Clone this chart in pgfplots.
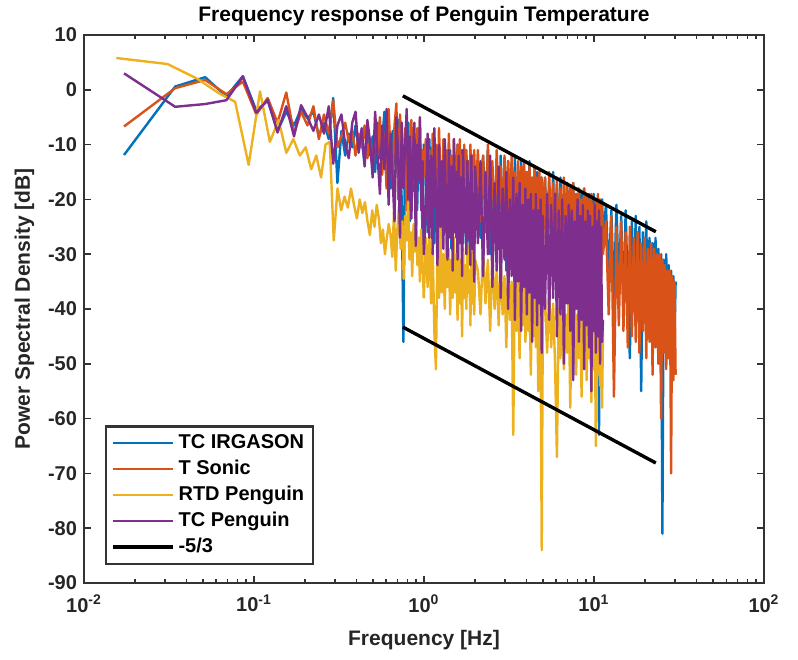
\documentclass[border=0pt]{standalone}
\usepackage{fontspec}
\setmainfont{Liberation Sans}
\usepackage{pgfplots}
\usepackage{pgfplotstable}
\pgfplotsset{compat=1.18}
\definecolor{mblue}{rgb}{0,0.447,0.741}
\definecolor{morange}{rgb}{0.85,0.325,0.098}
\definecolor{myellow}{rgb}{0.929,0.694,0.125}
\definecolor{mpurple}{rgb}{0.494,0.184,0.556}

\pgfplotstableread{
f B O Y P
0.0172 -11.9 -6.7 nan 3.0
0.0344 0.6 0.3 nan -3.1
0.0516 2.3 1.8 nan -2.6
0.0688 -1.2 -0.8 nan -1.9
0.0860 2.5 1.5 nan 2.4
0.1032 -3.8 -4.5 nan -4.2
0.1204 -2.0 -1.5 nan -1.8
0.1376 -7.5 -6.0 nan -7.8
0.1548 -4.0 -0.5 nan -3.0
0.1720 -6.5 -8.0 nan -8.5
0.1892 -3.5 -4.0 nan -2.8
0.2064 -5.2 -6.5 nan -5.0
0.2236 -4.0 -3.0 nan -7.5
0.2408 -8.5 -9.0 nan -4.5
0.2580 -6.0 -4.5 nan -8.0
0.2752 -9.0 -8.0 nan -3.0
0.2924 -1.5 -2.0 nan -13.5
0.3096 -17.0 -10.5 nan -6.5
0.3268 -7.5 -8.5 nan -4.5
0.3440 -12.0 -6.0 nan -10.0
0.3612 -8.0 -9.5 nan -12.5
0.3784 -10.5 -7.5 nan -6.0
0.3956 -6.5 -12.0 nan -4.0
0.4128 -11.0 -8.0 nan -11.5
0.4300 -9.0 -10.5 nan -7.0
0.4472 -13.5 -6.5 nan -14.0
0.4644 -7.0 -12.5 nan -5.5
0.4816 -12.0 -9.0 nan -9.5
0.4988 -8.5 -14.0 nan -16.0
0.5160 -15.0 -7.0 nan -4.0
0.5332 -6.0 -11.5 nan -12.0
0.5504 -12.5 -5.0 nan -19.0
0.5676 -9.5 -15.5 nan -6.5
0.5848 -4.0 -8.0 nan -14.5
0.6020 -14.0 -18.0 nan -3.5
0.6192 -10.0 -3.5 nan -21.0
0.6364 -18.0 -12.0 nan -8.0
0.6536 -7.5 -16.5 nan -16.0
0.6708 -12.0 -6.5 nan -24.0
0.6880 -15.0 -2.5 nan -5.0
0.7052 -5.5 -20.0 nan -12.0
0.7224 -13.0 -4.5 nan -27.0
0.7396 -20.0 -10.5 nan -6.0
0.7568 -46.0 -15.0 nan -18.0
0.7740 -9.0 -7.0 nan -10.5
0.7912 -16.5 -22.0 nan -3.5
0.8084 -6.0 -9.5 nan -20.0
0.8256 -24.0 -13.0 nan -8.5
0.8428 -11.0 -5.5 nan -23.5
0.8600 -18.5 -17.0 nan -12.0
0.8772 -8.0 -10.0 nan -6.0
0.8944 -14.0 -24.0 nan -28.5
0.9116 -22.0 -7.0 nan -10.0
0.9288 -9.5 -14.0 nan -16.5
0.9460 -17.0 -5.5 nan -5.0
0.9632 -12.0 -19.5 nan -22.0
0.9804 -28.0 -11.0 nan -13.0
0.9976 -10.0 -16.0 -38.0 -30.0
1.025 -12 -9 -27 -22
1.05 -26 -20 -36 -8
1.075 -9 -11 -26 -27
1.1 -20 -24 -39 -12
1.125 -11 -8 -29 -30
1.15 -28 -18 -44 -7
1.175 -14 -10 -51 -19
1.2 -22 -23 -28 -32
1.225 -10 -7 -38 -10
1.25 -33 -16 -25 -25
1.275 -13 -22 -37 -13
1.3 -24 -9 -30 -29
1.325 -10 -19 -40 -9
1.35 -26 -11 -27 -24
1.375 -15 -24 -36 -31
1.4 -21 -8 -29 -11
1.425 -11 -20 -41 -27
1.45 -29 -12 -31 -14
1.475 -16 -25 -38 -33
1.5 -24 -9 -27 -9
1.525 -12 -17 -37 -26
1.55 -27 -23 -30 -15
1.575 -10 -10 -42 -31
1.6 -31 -21 -28 -12
1.625 -15 -9 -39 -28
1.65 -23 -26 -31 -16
1.675 -11 -12 -45 -34
1.7 -28 -22 -29 -11
1.725 -17 -10 -38 -26
1.75 -25 -25 -32 -18
1.775 -12 -11 -40 -30
1.8 -30 -20 -28 -13
1.825 -14 -13 -37 -27
1.85 -22 -26 -33 -17
1.875 -11 -10 -43 -32
1.9 -27 -21 -30 -12
1.925 -16 -12 -39 -29
1.95 -32 -24 -29 -19
1.975 -13 -11 -41 -35
2.0 -25 -22 -31 -14
2.075 -14 -11 -33 -28
2.15 -27 -24 -41 -13
2.225 -12 -12 -29 -34
2.3 -22 -26 -39 -15
2.375 -11 -10 -31 -30
2.45 -30 -21 -44 -12
2.525 -16 -13 -30 -36
2.6 -25 -27 -40 -17
2.675 -13 -11 -33 -33
2.75 -29 -22 -43 -14
2.825 -12 -14 -31 -38
2.9 -24 -25 -41 -18
2.975 -15 -12 -34 -31
3.05 -33 -23 -47 -15
3.125 -13 -13 -32 -40
3.2 -26 -28 -42 -20
3.275 -14 -12 -35 -34
3.35 -30 -21 -63 -16
3.425 -12 -15 -33 -42
3.5 -27 -27 -44 -19
3.575 -16 -13 -34 -35
3.65 -31 -24 -49 -17
3.725 -13 -14 -36 -44
3.8 -25 -29 -43 -21
3.875 -14 -13 -33 -36
3.95 -34 -25 -46 -18
4.025 -15 -15 -35 -41
4.1 -28 -28 -44 -20
4.175 -13 -14 -37 -37
4.25 -30 -24 -52 -19
4.325 -16 -16 -36 -46
4.4 -27 -29 -45 -22
4.475 -14 -14 -38 -38
4.55 -32 -25 -47 -19
4.625 -15 -16 -36 -43
4.7 -29 -30 -55 -22
4.775 -17 -15 -39 -39
4.85 -33 -26 -46 -20
4.925 -16 -16 -84 -48
5.0 -28 -30 -41 -23
5.15 -16 -16 -38 -40
5.3 -30 -29 -48 -19
5.45 -17 -15 -37 -42
5.6 -28 -30 -47 -21
5.75 -15 -17 -39 -38
5.9 -33 -27 -50 -19
6.05 -18 -16 -67 -45
6.2 -29 -31 -40 -22
6.35 -16 -18 -49 -41
6.5 -34 -28 -38 -20
6.65 -19 -16 -51 -50
6.8 -27 -32 -41 -23
6.95 -17 -17 -48 -39
7.1 -31 -29 -37 -21
7.25 -18 -18 -58 -44
7.4 -35 -30 -40 -22
7.55 -17 -17 -50 -53
7.7 -28 -33 -39 -24
7.85 -19 -19 -52 -40
8.0 -32 -28 -41 -20
8.15 -18 -18 -49 -46
8.3 -36 -31 -39 -23
8.45 -19 -20 -56 -42
8.6 -29 -29 -42 -21
8.75 -18 -18 -50 -51
8.9 -33 -33 -40 -24
9.05 -20 -19 -53 -43
9.2 -30 -30 -41 -22
9.35 -19 -20 -49 -47
9.5 -35 -32 -39 -23
9.65 -20 -19 -57 -55
9.8 -31 -31 -42 -25
9.95 -19 -21 -51 -44
10.1 -34 -29 -40 -21
10.25 -21 -20 -65 -48
10.4 -30 -33 -43 -24
10.55 -20 -19 -52 -45
10.7 -63 -31 -41 -22
10.85 -21 -20 -54 -50
11.0 -32 -34 -42 -25
11.15 -20 -21 -58 -46
11.3 -28 -30 -44 -42
11.75 -21 -24 nan nan
12.2 -34 -41 nan nan
12.65 -22 -23 nan nan
13.1 -38 -56 nan nan
13.55 -21 -25 nan nan
14.0 -36 -43 nan nan
14.45 -23 -24 nan nan
14.9 -40 -44 nan nan
15.35 -22 -26 nan nan
15.8 -37 -47 nan nan
16.25 -49 -25 nan nan
16.7 -24 -45 nan nan
17.15 -38 -27 nan nan
17.6 -23 -46 nan nan
18.05 -41 -26 nan nan
18.5 -25 -48 nan nan
18.95 -55 -28 nan nan
19.4 -26 -44 nan nan
19.85 -42 -27 nan nan
20.3 -24 -49 nan nan
20.75 -44 -29 nan nan
21.2 -27 -46 nan nan
21.65 -40 -28 nan nan
22.1 -28 -52 nan nan
22.55 -45 -29 nan nan
23.0 -27 -47 nan nan
23.45 -43 -30 nan nan
23.9 -29 -50 nan nan
24.35 -46 -30 nan nan
24.8 -30 -60 nan nan
25.25 -81 -31 nan nan
25.7 -31 -48 nan nan
26.15 -44 -32 nan nan
26.6 -30 -51 nan nan
27.05 -47 -33 nan nan
27.5 -32 -49 nan nan
27.95 -45 -33 nan nan
28.4 -33 -70 nan nan
28.85 -48 -34 nan nan
29.3 -34 -53 nan nan
29.75 -46 -35 nan nan
30.2 -35 -52 nan nan
}\maintable

\pgfplotstableread{
f Y
0.0155 5.8
0.0310 4.7
0.0465 2.0
0.0620 -0.6
0.0775 -2.2
0.0930 -13.7
0.1085 -0.3
0.1240 -9.5
0.1395 -5.5
0.1550 -11.5
0.1705 -9.0
0.1860 -12.0
0.2015 -10.5
0.2170 -14.5
0.2325 -12.0
0.2480 -16.0
0.2635 -10.0
0.2790 -9.5
0.2945 -27.5
0.3100 -18.0
0.3255 -22.0
0.3410 -19.5
0.3565 -21.5
0.3720 -18.0
0.3875 -21.0
0.4030 -23.5
0.4185 -20.0
0.4340 -22.5
0.4495 -20.5
0.4650 -24.0
0.4805 -26.5
0.4960 -22.0
0.5115 -25.0
0.5270 -21.0
0.5425 -23.5
0.5580 -28.0
0.5735 -25.5
0.5890 -30.0
0.6045 -27.0
0.6200 -24.5
0.6355 -26.5
0.6510 -30.5
0.6665 -22.0
0.6820 -33.0
0.6975 -25.5
0.7130 -21.0
0.7285 -29.0
0.7440 -24.0
0.7595 -34.5
0.7750 -23.0
0.7905 -27.5
0.8060 -20.5
0.8215 -31.0
0.8370 -26.0
0.8525 -34.0
0.8680 -24.5
0.8835 -29.5
0.8990 -22.5
0.9145 -32.0
0.9300 -27.0
0.9455 -35.0
0.9610 -25.5
0.9765 -30.0
0.9976 -38.0
}\yellowlow

\pgfplotsset{
  legend image code/.code={\draw[#1] (0pt,0pt) -- (30pt,0pt);},
}

\begin{document}
\begin{tikzpicture}
\begin{axis}[
  scale only axis,
  width=340pt, height=274pt,
  xmode=log,
  xmin=0.01, xmax=100,
  ymin=-90, ymax=10,
  ytick={-90,-80,-70,-60,-50,-40,-30,-20,-10,0,10},
  xtick={0.01,0.1,1,10,100},
  xticklabels={10\textsuperscript{-2},10\textsuperscript{-1},10\textsuperscript{0},10\textsuperscript{1},10\textsuperscript{2}},
  /pgf/number format/assume math mode=true,
  tick label style={font=\fontsize{10}{12}\selectfont\bfseries, text=black!85},
  xticklabel style={yshift=-2.5pt},
  label style={font=\fontsize{10.5}{12}\selectfont\bfseries, text=black!85},
  xlabel style={yshift=-2pt},
  title style={font=\fontsize{10.5}{12}\selectfont\bfseries, anchor=south, inner sep=0pt, yshift=-1.5pt},
  title={Frequency response of Penguin Temperature},
  xlabel={Frequency [Hz]},
  ylabel={Power Spectral Density [dB]},
  axis line style={line width=1.2pt, black!80},
  major tick length=3.5pt,
  minor tick length=2pt,
  every tick/.style={black!80, line width=0.8pt},
  legend style={at={(0.031,0.033)}, anchor=south west, draw=black!80, line width=1.1pt,
    font=\fontsize{10}{12}\selectfont\bfseries, cells={anchor=west},
    row sep=0.3pt, inner xsep=2.5pt, inner ysep=2pt},
  every axis plot/.append style={line width=1.2pt, line join=round},
]
\addplot[mblue] table[x=f, y=B] {\maintable};
\addlegendentry{TC IRGASON}
\addplot[morange] table[x=f, y=O] {\maintable};
\addlegendentry{T Sonic}
\addplot[myellow] table[x=f, y=Y] {\yellowlow};
\addlegendentry{RTD Penguin}
\addplot[myellow, forget plot] table[x=f, y=Y] {\maintable};
\addplot[mpurple] table[x=f, y=P] {\maintable};
\addlegendentry{TC Penguin}
\addplot[black, line width=1.7pt] coordinates {(0.751,-1.1) (23.1,-25.9)};
\addlegendentry{-5/3}
\addplot[black, line width=1.7pt, forget plot] coordinates {(0.751,-43.3) (23.1,-68.1)};
\end{axis}
\path (current axis.south west) ++(-42pt,-38pt);
\path (current axis.south west) ++(357pt,291.5pt);
\end{tikzpicture}
\end{document}
